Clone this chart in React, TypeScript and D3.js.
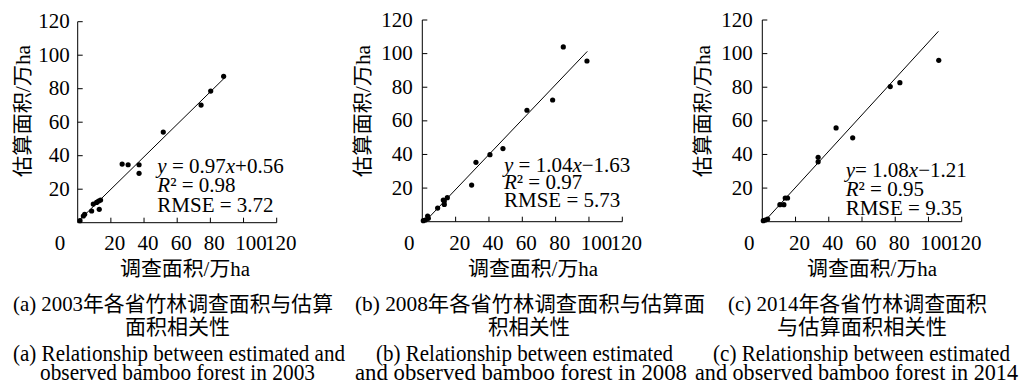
import React, { useEffect, useRef } from 'react';
import * as d3 from 'd3';

// observed (调查面积) vs estimated (估算面积), 万ha
const obs2003 = [1.4, 3.4, 4.2, 8.4, 9.4, 11.4, 12.6, 13.8, 13, 26.8, 30.4, 37, 37, 51.6, 74.4, 80.2, 88];
const est2003 = [1.2, 4.0, 5.0, 7.0, 11.1, 12.1, 12.9, 13.5, 8.0, 35.0, 34.6, 34.6, 29.5, 54.1, 70.2, 78.6, 87.4];

const obs2008 = [0.6, 1.8, 3.2, 3.6, 9.2, 12.6, 13.2, 13.2, 15, 29.6, 32.2, 40.6, 48.4, 62.8, 78.2, 84.6, 98.8];
const est2008 = [0.6, 1.0, 3.4, 2.0, 8.1, 12.9, 10.3, 12.3, 14.3, 21.8, 35.3, 39.9, 43.5, 66.3, 72.4, 104, 95.6];

const obs2014 = [0.6, 1.8, 3.2, 10.6, 13, 13.8, 15.2, 33.6, 33.6, 44.4, 54.4, 77, 82.8, 106.2];
const est2014 = [0.6, 1.0, 1.6, 10.1, 10.1, 14.1, 14.1, 38.3, 35.6, 55.8, 49.9, 80.4, 82.7, 96.0];

const slopes = [0.97, 1.04, 1.08];
const intercepts = [0.56, -1.63, -1.21];
const fitStart = [1.4, 1.6, 1.1];
const fitEnd = [89, 99, 106];
const r2Values = ['0.98', '0.97', '0.95'];
const rmseValues = ['3.72', '5.73', '9.35'];

const xTicks = [20, 40, 60, 80, 100, 120];
const yTicks = [20, 40, 60, 80, 100, 120];

const xTitle = '调查面积/万ha';
const yTitle = '估算面积/万ha';
const captionsCn = [
  ['(a) 2003年各省竹林调查面积与估算', '面积相关性'],
  ['(b) 2008年各省竹林调查面积与估算面', '积相关性'],
  ['(c) 2014年各省竹林调查面积', '与估算面积相关性'],
];
const captionsEn = [
  ['(a) Relationship between estimated and', 'observed bamboo forest in 2003'],
  ['(b) Relationship between estimated', 'and observed bamboo forest in 2008'],
  ['(c) Relationship between estimated', 'and observed bamboo forest in 2014'],
];

const serif = "'Liberation Serif', 'Times New Roman', serif";
const mixed = "'Liberation Serif', 'Noto Sans CJK SC', serif";

// layout of each panel
const panels = [
  { obs: obs2003, est: est2003, left: 77.7, right: 276.7, bottom: 222.7, top: 21.7, zeroDx: -17.7, yLabGap: 8,
    noteX: 157.3, noteY: [172.7, 191.7, 211.7], eqSpace: true, yTitleX: 30, titleX: 185,
    cn: [[173, 320], [177.5, 105]], en: [[179, 332], [177.5, 275]] },
  { obs: obs2008, est: est2008, left: 422.3, right: 622.3, bottom: 221.7, top: 20, zeroDx: -13, yLabGap: 9.6,
    noteX: 504, noteY: [171.7, 189, 206.7], eqSpace: true, yTitleX: 370, titleX: 533,
    cn: [[530, 350], [529, 82]], en: [[524.5, 297], [521, 332]] },
  { obs: obs2014, est: est2014, left: 762.3, right: 961.7, bottom: 221.7, top: 20, zeroDx: -13, yLabGap: 9.6,
    noteX: 845.7, noteY: [177, 196, 215], eqSpace: false, yTitleX: 710, titleX: 872,
    cn: [[857.5, 259], [862, 170]], en: [[861.5, 297], [856.5, 323]] },
];

export default function App() {
  const ref = useRef<SVGSVGElement>(null);

  useEffect(() => {
    const svg = d3.select(ref.current);
    svg.selectAll('*').remove();

    panels.forEach((p, i) => {
      const x = d3.scaleLinear().domain([0, 120]).range([p.left, p.right]);
      const y = d3.scaleLinear().domain([0, 120]).range([p.bottom, p.top]);
      const g = svg.append('g');

      // axes
      g.append('line').attr('x1', x(0)).attr('x2', x(120)).attr('y1', y(0)).attr('y2', y(0))
        .attr('stroke', '#000').attr('stroke-width', 1);
      g.append('line').attr('x1', x(0)).attr('x2', x(0)).attr('y1', y(0)).attr('y2', y(120))
        .attr('stroke', '#000').attr('stroke-width', 1);

      g.selectAll('.xt').data(xTicks).enter().append('line')
        .attr('x1', d => x(d)).attr('x2', d => x(d))
        .attr('y1', y(0)).attr('y2', y(0) - 5)
        .attr('stroke', '#000');
      g.selectAll('.yt').data(yTicks).enter().append('line')
        .attr('x1', x(0)).attr('x2', x(0) + 5)
        .attr('y1', d => y(d)).attr('y2', d => y(d))
        .attr('stroke', '#000');

      g.selectAll('.xl').data([0, ...xTicks]).enter().append('text')
        .attr('x', d => x(d) + (d === 0 ? p.zeroDx : d === 100 ? 7.5 : 4))
        .attr('y', 249.8)
        .attr('text-anchor', 'middle')
        .style('font-family', serif).style('font-size', '21px')
        .text(d => d);
      g.selectAll('.yl').data(yTicks).enter().append('text')
        .attr('x', x(0) - p.yLabGap)
        .attr('y', d => y(d) + 6.6)
        .attr('text-anchor', 'end')
        .style('font-family', serif).style('font-size', '21px')
        .text(d => d);

      // axis titles
      g.append('text')
        .attr('x', p.titleX).attr('y', 276)
        .attr('text-anchor', 'middle')
        .attr('textLength', 130).attr('lengthAdjust', 'spacingAndGlyphs')
        .style('font-family', mixed).style('font-size', '20.5px')
        .text(xTitle);
      g.append('text')
        .attr('transform', `translate(${p.yTitleX},111) rotate(-90)`)
        .attr('text-anchor', 'middle')
        .attr('textLength', 132).attr('lengthAdjust', 'spacingAndGlyphs')
        .style('font-family', mixed).style('font-size', '20.5px')
        .text(yTitle);

      // fit line
      const fx = [fitStart[i], fitEnd[i]];
      g.append('path')
        .attr('d', d3.line<number>().x(d => x(d)).y(d => y(slopes[i] * d + intercepts[i]))(fx))
        .attr('fill', 'none').attr('stroke', '#000').attr('stroke-width', 1);

      // points
      g.selectAll('.pt').data(p.obs).enter().append('circle')
        .attr('cx', d => x(d))
        .attr('cy', (d, j) => y(p.est[j]))
        .attr('r', 2.6)
        .attr('fill', '#000');

      // equation notes
      const note = (yy: number) => g.append('text')
        .attr('x', p.noteX).attr('y', yy)
        .style('font-family', serif).style('font-size', '21px');
      const b = intercepts[i];
      const eq = note(p.noteY[0]);
      eq.append('tspan').style('font-style', 'italic').text('y');
      eq.append('tspan').text((p.eqSpace ? ' = ' : '= ') + slopes[i].toFixed(2));
      eq.append('tspan').style('font-style', 'italic').text('x');
      eq.append('tspan').text((b < 0 ? '\u2212' : '+') + Math.abs(b).toFixed(2));
      const r2 = note(p.noteY[1]);
      r2.append('tspan').style('font-style', 'italic').text('R');
      r2.append('tspan').text('\u00b2 = ' + r2Values[i]);
      note(p.noteY[2]).text('RMSE = ' + rmseValues[i]);

      // captions
      const lines = [
        { t: captionsCn[i][0], c: p.cn[0], yy: 311, fs: 21 },
        { t: captionsCn[i][1], c: p.cn[1], yy: 333.5, fs: 21 },
        { t: captionsEn[i][0], c: p.en[0], yy: 361, fs: 22.5 },
        { t: captionsEn[i][1], c: p.en[1], yy: 380, fs: 22.5 },
      ];
      lines.forEach(l => {
        g.append('text')
          .attr('x', l.c[0]).attr('y', l.yy)
          .attr('text-anchor', 'middle')
          .attr('textLength', l.c[1]).attr('lengthAdjust', 'spacingAndGlyphs')
          .style('font-family', mixed).style('font-size', l.fs + 'px')
          .text(l.t);
      });
    });
  }, []);

  return (
    <svg ref={ref} width={1020} height={384}
      style={{ position: 'absolute', left: 0, top: 0, background: '#fff' }} />
  );
}
